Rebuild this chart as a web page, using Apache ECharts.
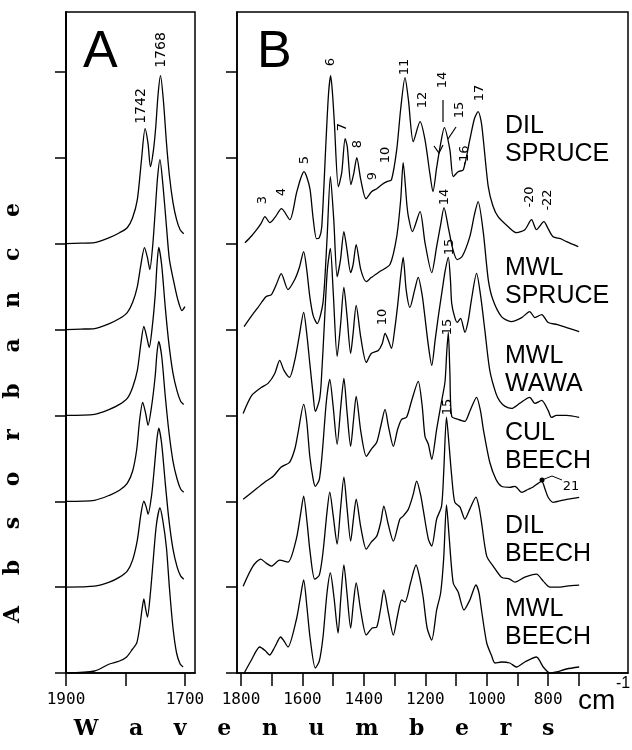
<!DOCTYPE html>
<html><head><meta charset="utf-8">
<script src="https://cdn.jsdelivr.net/npm/echarts@6/dist/echarts.min.js"></script>
<style>html,body{margin:0;padding:0;background:#fff}#c{width:632px;height:750px}</style>
</head><body><div id="c"></div>
<script>
// ---------- DATA (wavenumber cm-1, absorbance in chart units) ----------
const STEP = 85.86;            // vertical offset between stacked spectra
const Y_MAX = 661;
const xTicksA = [1900, 1800, 1700];
const xLabelsA = [1900, 1700];
const xTicksB = [1800, 1700, 1600, 1500, 1400, 1300, 1200, 1100, 1000, 900, 800, 700];
const xLabelsB = [1800, 1600, 1400, 1200, 1000, 800];
const yTickSteps = [0, 1, 2, 3, 4, 5, 6, 7];

// Panel A : carbonyl region (top to bottom)
const A_dilSpruce = [[1900,0],[1875,0.5],[1852,1],[1827,6],[1810,11],[1797,16],[1788,26],[1780,44],[1773,84],[1767,115],[1762,100],[1758,77],[1753,93],[1749,117],[1745,150],[1741,168],[1736,142],[1731,101],[1726,68],[1720,41],[1714,24],[1708,14],[1702,10]];
const A_mwlSpruce = [[1900,0],[1875,0.5],[1852,1],[1827,6],[1810,11],[1797,17],[1788,27],[1780,43],[1774,65],[1768,82],[1763,72],[1759,60],[1754,85],[1750,118],[1746,152],[1742,170],[1737,145],[1731,103],[1726,70],[1717,43],[1711,28],[1705,19],[1700,23]];
const A_mwlWawa = [[1900,0],[1852,1],[1827,6],[1810,11],[1797,17],[1788,28],[1780,45],[1774,72],[1769,89],[1764,78],[1760,68],[1755,88],[1750,120],[1747,150],[1744,168],[1739,150],[1733,108],[1727,72],[1720,42],[1713,24],[1707,14],[1702,11]];
const A_culBeech = [[1900,0],[1852,1],[1827,6],[1810,11],[1797,18],[1788,30],[1781,52],[1776,82],[1771,99],[1766,88],[1762,76],[1756,95],[1750,125],[1747,148],[1744,160],[1739,145],[1733,105],[1727,70],[1720,40],[1713,22],[1707,12],[1702,9]];
const A_dilBeech = [[1900,0],[1852,1],[1827,5],[1810,10],[1797,16],[1788,27],[1780,47],[1774,73],[1769,86],[1765,80],[1762,73],[1756,92],[1751,122],[1747,148],[1744,159],[1739,143],[1733,104],[1727,68],[1720,38],[1713,20],[1707,11],[1702,8]];
const A_mwlBeech = [[1900,0],[1852,2],[1827,9],[1810,12],[1798,16],[1788,24],[1781,30],[1776,46],[1772,64],[1769,74],[1766,64],[1763,56],[1758,80],[1753,115],[1748,148],[1742,165],[1737,152],[1731,125],[1726,85],[1720,45],[1714,20],[1708,9],[1703,6]];

// Panel B : fingerprint region (top to bottom)
const B_dilSpruce = [[1787,1],[1765,8],[1749,14],[1735,20],[1722,27],[1706,21],[1690,26],[1668,35],[1641,24],[1619,51],[1606,65],[1595,72],[1585,66],[1575,54],[1565,25],[1554,5],[1545,6],[1537,17],[1523,104],[1515,150],[1508,168],[1502,150],[1496,121],[1483,57],[1472,71],[1461,105],[1454,97],[1442,59],[1433,70],[1423,86],[1410,64],[1393,45],[1375,52],[1358,55],[1342,59],[1325,62],[1310,64],[1293,94],[1280,135],[1266,166],[1255,144],[1239,102],[1217,122],[1201,104],[1185,70],[1175,52],[1163,76],[1150,100],[1138,116],[1120,94],[1109,67],[1093,72],[1076,74],[1055,104],[1040,125],[1028,132],[1018,122],[1011,104],[995,57],[980,38],[963,27],[930,17],[903,11],[876,14],[854,24],[838,14],[814,22],[800,15],[784,7],[760,5],[740,2],[702,-3]];
const B_mwlSpruce = [[1790,3],[1765,14],[1745,22],[1718,33],[1701,35],[1685,45],[1669,56],[1647,40],[1625,50],[1610,62],[1596,78],[1586,60],[1576,33],[1565,14],[1552,6],[1533,27],[1520,90],[1509,153],[1498,110],[1487,53],[1476,70],[1465,98],[1455,80],[1443,57],[1435,65],[1425,85],[1410,60],[1392,48],[1376,52],[1348,58],[1315,65],[1293,93],[1280,130],[1272,167],[1260,125],[1255,113],[1242,98],[1217,118],[1201,87],[1179,57],[1163,83],[1150,105],[1139,122],[1125,102],[1110,80],[1096,70],[1080,73],[1055,93],[1040,115],[1028,128],[1011,97],[995,50],[980,30],[952,13],[920,8],[886,12],[860,18],[843,12],[821,15],[800,7],[770,5],[740,2],[699,-2]];
const B_mwlWawa = [[1793,2],[1765,20],[1734,28],[1712,32],[1690,42],[1674,55],[1660,45],[1642,38],[1625,55],[1610,80],[1596,103],[1586,82],[1576,52],[1565,20],[1558,4],[1545,15],[1539,32],[1528,95],[1519,145],[1509,167],[1500,125],[1487,59],[1476,90],[1465,128],[1455,100],[1443,62],[1435,82],[1425,110],[1410,78],[1392,53],[1376,62],[1353,65],[1340,72],[1331,82],[1320,75],[1310,67],[1300,85],[1290,110],[1280,140],[1272,158],[1262,125],[1250,108],[1235,125],[1223,138],[1210,120],[1201,98],[1190,70],[1179,50],[1168,75],[1158,98],[1145,125],[1135,145],[1125,158],[1118,135],[1114,112],[1104,98],[1096,93],[1085,97],[1071,83],[1060,95],[1050,115],[1033,142],[1020,120],[1006,85],[990,45],[970,22],[957,14],[940,9],[919,7],[893,12],[860,18],[843,12],[821,15],[800,5],[789,-2],[773,0],[740,0],[699,-2]];
const B_culBeech = [[1793,2],[1760,10],[1723,19],[1695,25],[1670,34],[1642,39],[1625,52],[1614,69],[1596,97],[1586,80],[1576,45],[1565,22],[1558,15],[1545,22],[1535,50],[1522,100],[1511,122],[1500,95],[1487,57],[1475,95],[1465,123],[1455,90],[1443,55],[1434,80],[1425,105],[1410,70],[1392,45],[1376,52],[1358,59],[1345,75],[1331,92],[1320,75],[1304,55],[1290,72],[1277,82],[1261,84],[1245,100],[1223,120],[1210,95],[1201,65],[1190,57],[1179,42],[1163,72],[1150,95],[1136,119],[1130,150],[1125,169],[1120,130],[1114,85],[1093,82],[1071,80],[1055,90],[1033,104],[1020,90],[1011,72],[990,39],[970,22],[952,15],[925,14],[908,15],[886,9],[865,12],[850,14],[821,20],[810,12],[800,4],[784,-1],[740,2],[699,4]];
const B_dilBeech = [[1793,1],[1761,21],[1736,28],[1718,24],[1701,21],[1674,27],[1647,25],[1620,48],[1605,75],[1596,91],[1585,65],[1575,35],[1560,8],[1545,12],[1533,35],[1520,75],[1511,95],[1500,72],[1487,43],[1476,78],[1465,110],[1455,80],[1443,46],[1434,68],[1425,88],[1410,60],[1392,38],[1376,45],[1358,51],[1345,65],[1335,81],[1320,62],[1304,46],[1283,68],[1272,71],[1255,78],[1240,92],[1228,106],[1215,92],[1207,78],[1190,48],[1179,41],[1163,68],[1147,81],[1140,115],[1131,170],[1122,140],[1114,111],[1104,85],[1087,80],[1071,68],[1055,78],[1035,90],[1025,80],[1017,65],[1000,31],[979,21],[952,10],[925,8],[908,5],[876,10],[838,13],[816,6],[794,0],[767,0],[740,1],[699,2]];
const B_mwlBeech = [[1793,-2],[1766,13],[1739,26],[1720,22],[1707,18],[1690,26],[1671,36],[1660,32],[1647,26],[1620,53],[1607,75],[1596,93],[1585,65],[1575,35],[1558,5],[1545,12],[1533,36],[1520,80],[1509,100],[1497,75],[1484,40],[1475,75],[1465,108],[1455,80],[1443,45],[1434,70],[1425,90],[1410,62],[1392,38],[1373,45],[1358,46],[1345,65],[1335,83],[1320,60],[1304,38],[1290,58],[1277,73],[1266,71],[1248,90],[1230,108],[1218,95],[1207,76],[1194,45],[1179,33],[1163,63],[1150,80],[1140,115],[1131,168],[1122,135],[1109,90],[1093,81],[1074,63],[1055,73],[1035,88],[1025,80],[1017,63],[1000,30],[985,18],[973,10],[952,11],[925,10],[903,6],[876,11],[838,16],[816,6],[794,0],[773,1],[740,4],[699,6]];

const sampleNames = ['DIL\nSPRUCE', 'MWL\nSPRUCE', 'MWL\nWAWA', 'CUL\nBEECH', 'DIL\nBEECH', 'MWL\nBEECH'];
const spectraA = [A_dilSpruce, A_mwlSpruce, A_mwlWawa, A_culBeech, A_dilBeech, A_mwlBeech];
const spectraB = [B_dilSpruce, B_mwlSpruce, B_mwlWawa, B_culBeech, B_dilBeech, B_mwlBeech];
const panelLetters = ['A', 'B'];
const peakLabelsA = ['1742', '1768'];
const peakLabelsB = ['3','4','5','6','7','8','9','10','11','12','14','15','-16','17','-20','-22','14','15','10','15','15'];
const xTitle = 'W    a    v    e    n    u    m    b    e    r    s';
const yTitle = 'A    b    s    o    r    b    a    n    c    e';

// ---------- CHART ----------
const chart = echarts.init(document.getElementById('c'), null, {renderer: 'canvas'});
const yTicks = yTickSteps.map(k => k * STEP);
const black = '#000';
const lineW = 1.3;

function mkSeries(list, axisIdx) {
  return list.map((arr, i) => ({
    type: 'line', xAxisIndex: axisIdx, yAxisIndex: axisIdx,
    name: sampleNames[i].replace('\n', ' ') + (axisIdx === 0 ? ' (A)' : ''),
    data: arr.map(p => [p[0], p[1] + (list.length - 1 - i) * STEP]),
    showSymbol: false, symbol: 'none', smooth: 0.25,
    lineStyle: {color: black, width: lineW}, silent: true, z: 3
  }));
}

function yAxis(g) {
  return {gridIndex: g, type: 'value', min: 0, max: Y_MAX,
    axisLine: {show: true, onZero: false, lineStyle: {color: black, width: g === 0 ? 2 : 1.6}},
    axisTick: {show: true, customValues: yTicks, length: 11, inside: false, lineStyle: {color: black, width: 1.5}},
    axisLabel: {show: false}, splitLine: {show: false}};
}

const labelFont = {fontFamily: 'DejaVu Sans Mono', fontSize: 16, color: black, margin: 19, formatter: v => String(v)};

const graphics = [];
function txt(text, x, y, font, opts) {
  graphics.push(Object.assign({type: 'text', x: x, y: y, silent: true, z: 10,
    style: Object.assign({text: text, font: font, fill: black, align: 'center', verticalAlign: 'middle'}, (opts && opts.style) || {})},
    opts && opts.rotation !== undefined ? {rotation: opts.rotation} : {}));
}
const R = Math.PI / 2;
// panel letters
txt(panelLetters[0], 83, 27, '52px "Liberation Sans"', {style: {align: 'left', verticalAlign: 'top'}});
txt(panelLetters[1], 257, 27, '52px "Liberation Sans"', {style: {align: 'left', verticalAlign: 'top'}});
// sample names
const nameTops = [112, 254, 342, 419, 512, 595];
sampleNames.forEach((n, i) => txt(n, 505, nameTops[i], '25px "Liberation Sans"', {style: {align: 'left', verticalAlign: 'top', lineHeight: 28}}));
// panel A peak labels
txt(peakLabelsA[0], 141, 106, '14px "DejaVu Sans"', {rotation: R});
txt(peakLabelsA[1], 161, 50, '14px "DejaVu Sans"', {rotation: R});
// panel B peak labels
const pbPos = [[263,200],[282,192],[305,160],[331,62],[343,127],[358,144],[373,176],[386,155],[405,67],[423,100],[443,80],[460,110],[465,156],[480,93],[530,197],[548,200],[445,197],[450,247],[383,317],[448,327],[448,407]];
peakLabelsB.forEach((t, i) => txt(t, pbPos[i][0], pbPos[i][1], '13px "DejaVu Sans"', {rotation: R}));
txt('21', 571, 487, '13px "DejaVu Sans"');
graphics.push({type: 'circle', shape: {cx: 542, cy: 480, r: 2.5}, style: {fill: black}, silent: true, z: 10});
graphics.push({type: 'polyline', shape: {points: [[542,480],[552,476],[562,480]]}, style: {stroke: black, lineWidth: 1, fill: null}, silent: true, z: 10});
graphics.push({type: 'line', shape: {x1: 443, y1: 100, x2: 443, y2: 122}, style: {stroke: black, lineWidth: 1.2}, silent: true, z: 10});
graphics.push({type: 'line', shape: {x1: 456, y1: 127, x2: 448, y2: 139}, style: {stroke: black, lineWidth: 1.2}, silent: true, z: 10});
graphics.push({type: 'polyline', shape: {points: [[434,146],[439,153],[443,145]]}, style: {stroke: black, lineWidth: 1.2, fill: null}, silent: true, z: 10});
// cm-1
txt('cm', 578, 701, '28px "Liberation Sans"', {style: {align: 'left', verticalAlign: 'middle'}});
txt('-1', 616, 684, '16px "Liberation Sans"', {style: {align: 'left', verticalAlign: 'middle'}});
// axis titles
txt(xTitle, 314, 729, 'bold 22px "DejaVu Serif"');
txt(yTitle, 13, 413, 'bold 22px "DejaVu Serif"', {rotation: R});

chart.setOption({
  animation: false,
  backgroundColor: '#fff',
  grid: [
    {left: 66, top: 12, width: 129, height: 661, show: true, borderColor: black, borderWidth: 1.5, containLabel: false},
    {left: 237, top: 12, width: 391, height: 661, show: true, borderColor: black, borderWidth: 1.5, containLabel: false}
  ],
  xAxis: [
    {gridIndex: 0, type: 'value', inverse: true, min: 1683, max: 1900,
      axisLine: {show: true, onZero: false, lineStyle: {color: black, width: 1.5}},
      axisTick: {show: true, customValues: xTicksA, length: 13, lineStyle: {color: black, width: 1.5}},
      axisLabel: Object.assign({customValues: xLabelsA}, labelFont), splitLine: {show: false}},
    {gridIndex: 1, type: 'value', inverse: true, min: 540, max: 1813,
      axisLine: {show: true, onZero: false, lineStyle: {color: black, width: 1.5}},
      axisTick: {show: true, customValues: xTicksB, length: 13, lineStyle: {color: black, width: 1.5}},
      axisLabel: Object.assign({customValues: xLabelsB}, labelFont), splitLine: {show: false}}
  ],
  yAxis: [yAxis(0), yAxis(1)],
  series: mkSeries(spectraA, 0).concat(mkSeries(spectraB, 1)),
  graphic: graphics
});
</script></body></html>
